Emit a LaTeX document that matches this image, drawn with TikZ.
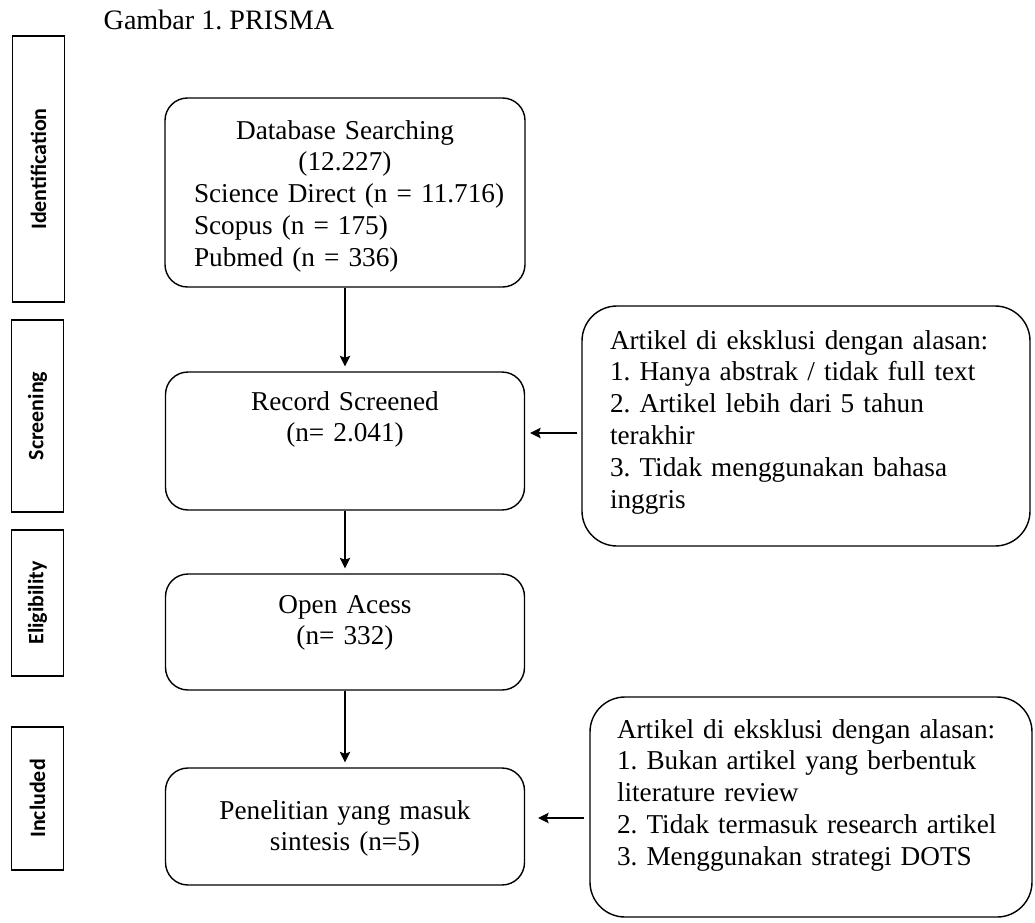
\documentclass[tikz,border=0pt]{standalone}
\usepackage{fontspec}
\setmainfont{Liberation Serif}
\newfontfamily\phasefont{Carlito}
\usetikzlibrary{arrows,arrows.meta}
\frenchspacing

\newcommand{\dbline}[1]{\makebox[6.04cm][l]{#1}}

\begin{document}
\begin{tikzpicture}[-,>={Stealth[length=2.1mm,width=2.1mm,inset=0.4mm]},auto,thick,
  font=\fontsize{15.5}{18.2}\selectfont,
  flow node/.style={rectangle,rounded corners=0.45cm,draw,align=center,
    text width=7.18cm,inner xsep=0pt,inner ysep=0pt},
  skip node/.style={rectangle,rounded corners=0.7cm,draw,align=left,
    inner xsep=0pt,inner ysep=0pt},
  phase node/.style={rectangle,draw,line width=1pt,rotate=90,inner sep=0pt,
    font=\phasefont\bfseries\fontsize{12.5}{15}\selectfont,minimum height=1.04cm}]

  \useasboundingbox (0,0) rectangle (20.7,-18.44);

  \node (title) [anchor=west,inner xsep=0pt] at (2.06,-0.4) {\fontsize{16}{18}\selectfont Gambar 1. PRISMA};

  \node[phase node,minimum width=5.32cm] (ident) at (0.77,-3.38) {Identification};
  \node[phase node,minimum width=3.84cm] (scr) at (0.75,-8.32) {Screening};
  \node[phase node,minimum width=2.92cm] (elig) at (0.75,-12.06) {Eligibility};
  \node[phase node,minimum width=2.86cm] (inc) at (0.75,-15.97) {Included};

  \node[flow node,text width=7.2cm,text height=0.82cm,text depth=2.96cm] (search) at (6.9,-3.85)
    {Database Searching\\(12.227)\\\dbline{Science Direct (n = 11.716)}\\
     \dbline{Scopus (n = 175)}\\\dbline{Pubmed (n = 336)}};
  \node[flow node,text height=0.76cm,text depth=2cm] (screen) [below of=search,node distance=4.97cm]
    {Record Screened\\(n= 2.041)};
  \node[flow node,text height=0.78cm,text depth=1.54cm] (open) [below of=screen,node distance=3.82cm]
    {Open Acess\\(n= 332)};
  \node[flow node,text height=1.02cm,text depth=1.32cm] (incl) [below of=open,node distance=3.89cm]
    {Penelitian yang masuk\\sintesis (n=5)};

  \node[skip node,text width=7.84cm,minimum width=8.96cm,text height=0.86cm,text depth=3.94cm] (excl1) at (16.12,-8.52)
    {Artikel di eksklusi dengan alasan:\\1. Hanya abstrak / tidak full text\\
     2. Artikel lebih dari 5 tahun\\terakhir\\3. Tidak menggunakan bahasa\\inggris};
  \node[skip node,text width=7.76cm,minimum width=8.84cm,text height=0.82cm,text depth=3.58cm] (excl2) at (16.22,-16.14)
    {Artikel di eksklusi dengan alasan:\\1. Bukan artikel yang berbentuk\\literature review\\
     2. Tidak termasuk research artikel\\3. Menggunakan strategi DOTS};

  \path[->,semithick]
    (search) edge[shorten >=0.1cm] (screen)
    (screen) edge[shorten >=0.1cm] (open)
    (open) edge[shorten >=0.1cm] (incl)
    ([yshift=-0.14cm]excl1.west) edge[shorten <=0.08cm,shorten >=0.1cm] ([yshift=-0.14cm]excl1.west -| screen.east)
    ([yshift=-0.22cm]excl2.west) edge[shorten <=0.1cm,shorten >=0.26cm] ([yshift=-0.22cm]excl2.west -| incl.east);
\end{tikzpicture}
\end{document}
